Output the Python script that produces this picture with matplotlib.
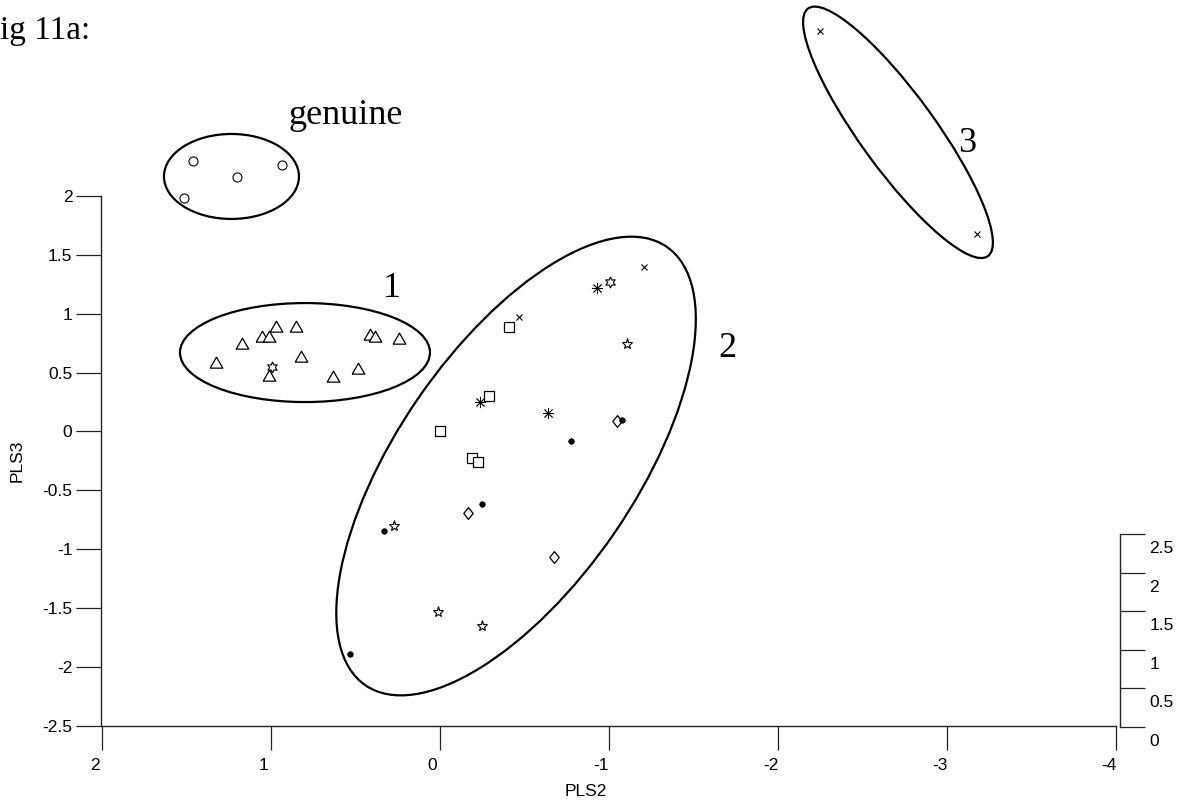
import matplotlib
matplotlib.use("Agg")
import matplotlib.pyplot as plt
import matplotlib.transforms as mtransforms
from matplotlib.patches import Ellipse

plt.rcParams['font.family'] = ['Liberation Sans', 'DejaVu Sans']

# PLS2 / PLS3 scores
genuine_pls2 = [1.46, 1.51, 1.20, 0.93]
genuine_pls3 = [2.30, 1.98, 2.16, 2.26]

tri_pls2 = [1.32, 1.17, 1.05, 1.01, 0.97, 0.85, 0.82, 1.01, 0.63, 0.48, 0.41, 0.38, 0.24]
tri_pls3 = [0.57, 0.73, 0.79, 0.79, 0.88, 0.88, 0.62, 0.46, 0.45, 0.52, 0.81, 0.79, 0.78]

sq_pls2 = [-0.41, -0.29, 0.00, -0.19, -0.23]
sq_pls3 = [0.89, 0.30, 0.00, -0.23, -0.26]

dia_pls2 = [-1.05, -0.17, -0.68]
dia_pls3 = [0.09, -0.69, -1.07]

dot_pls2 = [-1.08, -0.78, -0.25, 0.33, 0.53]
dot_pls3 = [0.10, -0.08, -0.62, -0.85, -1.89]

star5_pls2 = [-1.11, 0.27, 0.01, -0.25]
star5_pls3 = [0.74, -0.80, -1.53, -1.65]

star6_pls2 = [0.99, -1.01]
star6_pls3 = [0.55, 1.27]

ast_pls2 = [-0.93, -0.24, -0.64]
ast_pls3 = [1.22, 0.25, 0.16]

cross_pls2 = [-1.21, -0.47, -2.25, -3.18]
cross_pls3 = [1.40, 0.97, 3.40, 1.68]

pls2_ticks = [2, 1, 0, -1, -2, -3, -4]
pls3_ticks = [-2.5, -2, -1.5, -1, -0.5, 0, 0.5, 1, 1.5, 2]
depth_ticks = [0, 0.5, 1, 1.5, 2, 2.5]

W, H = 1193, 802
fig = plt.figure(figsize=(W / 100, H / 100), dpi=100)
ax = fig.add_axes([101.5 / W, (H - 725.7) / H, 1014 / W, 529.7 / H])
ax.set_xlim(2, -4)
ax.set_ylim(-2.5, 2)
ax.patch.set_visible(False)

for s in ['top', 'right']:
    ax.spines[s].set_visible(False)
for s in ['left', 'bottom']:
    ax.spines[s].set_color('#222222')
    ax.spines[s].set_linewidth(1.0)

ax.set_xticks(pls2_ticks)
ax.set_xticklabels([f'{v:g}' for v in pls2_ticks])
ax.set_yticks(pls3_ticks)
ax.set_yticklabels([f'{v:g}' for v in pls3_ticks])
ax.tick_params(axis='y', direction='out', length=18, width=0.9, color='#222222',
               labelsize=12.5, pad=3)
ax.tick_params(axis='x', direction='out', length=17.3, width=0.9, color='#222222',
               labelsize=12.5, pad=5.8)
shift = mtransforms.ScaledTranslation(-7 / 100, 0, fig.dpi_scale_trans)
for lab in ax.get_xticklabels():
    lab.set_transform(lab.get_transform() + shift)

ax.set_xlabel('PLS2', fontsize=12.5)
ax.xaxis.set_label_coords(0.478, -0.110)
ax.set_ylabel('PLS3', fontsize=12.5)
ax.yaxis.set_label_coords(-0.0754, 0.5)

# markers
kw = dict(ls='none', mec='black', clip_on=False)
tri = [(-1, -0.577), (1, -0.577), (0, 1.155), (-1, -0.577)]
dia = [(0, 1), (0.8, 0), (0, -1), (-0.8, 0), (0, 1)]
ax.plot(genuine_pls2, genuine_pls3, marker='o', ms=6.5, mfc='white', mew=0.8, **kw)
ax.plot(tri_pls2, tri_pls3, marker=tri, ms=10.5, mfc='white', mew=0.9, **kw)
ax.plot(sq_pls2, sq_pls3, marker='s', ms=6.5, mfc='white', mew=0.9, **kw)
ax.plot(dia_pls2, dia_pls3, marker=dia, ms=8.5, mfc='white', mew=0.9, **kw)
ax.plot(dot_pls2, dot_pls3, marker='o', ms=4, mfc='black', mew=0.5, **kw)
ax.plot(star5_pls2, star5_pls3, marker='*', ms=8, mfc='white', mew=0.8, **kw)
ax.plot(star6_pls2, star6_pls3, marker=(6, 1, 0), ms=8, mfc='white', mew=0.8, **kw)
ax.plot(ast_pls2, ast_pls3, marker=(8, 2, 0), ms=8, mew=0.6, **kw)
ax.plot(cross_pls2, cross_pls3, marker='x', ms=4.5, mew=0.8, **kw)

# group ellipses (centre in data units, size in pixels)
ellipses = [((1.231, 2.166), 135, 85, 0),
            ((0.796, 0.670), 250, 99, 0),
            ((-0.453, -0.294), 532, 238, 55.5),
            ((-2.713, 2.541), 306, 75, -54)]
for (cx, cy), w, h, ang in ellipses:
    tr = fig.dpi_scale_trans + mtransforms.ScaledTranslation(cx, cy, ax.transData)
    e = Ellipse((0, 0), w / 100, h / 100, angle=ang, fill=False, lw=1.6,
                ec='black', transform=tr, clip_on=False)
    ax.add_patch(e)

serif = ['Liberation Serif', 'DejaVu Serif']
ax.text(0.556, 2.609, 'genuine', fontsize=26, family=serif, ha='center', va='baseline')
ax.text(0.281, 1.146, '1', fontsize=26, family=serif, ha='center', va='baseline')
ax.text(-1.701, 0.628, '2', fontsize=26, family=serif, ha='center', va='baseline')
ax.text(-3.121, 2.374, '3', fontsize=26, family=serif, ha='center', va='baseline')
fig.text(0, 1 - 39 / H, 'ig 11a:', fontsize=24, family=serif, ha='left', va='baseline')

# third (depth) axis at the right end
az = fig.add_axes([1120 / W, (H - 727) / H, 25 / W, 193 / H])
az.set_ylim(0, 2.5)
az.patch.set_visible(False)
az.set_xticks([])
for s in ['top', 'right', 'bottom']:
    az.spines[s].set_visible(False)
az.spines['left'].set_color('#222222')
az.spines['left'].set_linewidth(1.0)
az.set_yticks(depth_ticks)
az.set_yticklabels([f'{v:g}' for v in depth_ticks])
az.tick_params(axis='y', direction='in', length=18, width=0.9, color='#222222',
               left=True, right=False, labelleft=False, labelright=True,
               labelsize=12.5, pad=3)
down = mtransforms.ScaledTranslation(0, -13 / 100, fig.dpi_scale_trans)
for lab in az.get_yticklabels():
    lab.set_transform(lab.get_transform() + down)

fig.savefig('out.png', dpi=100)
